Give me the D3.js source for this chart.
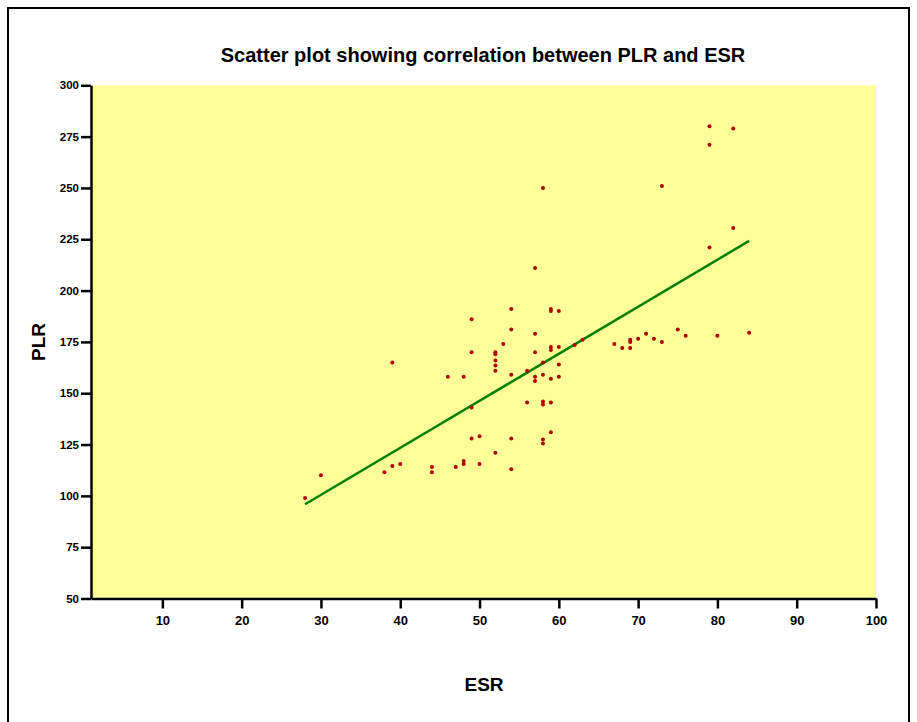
<!DOCTYPE html>
<html>
<head>
<meta charset="utf-8">
<script src="https://cdn.jsdelivr.net/npm/d3@7"></script>
<style>
  body { margin: 0; background: #fff; }
  svg text { font-family: Arial, "Liberation Sans", sans-serif; font-weight: bold; }
</style>
</head>
<body>
<div class="container"></div>
<script>
const w = 917;
const h = 722;

// ESR / PLR pairs
const esr = [28, 30, 38, 39, 39, 40, 44, 44, 46, 47, 48, 48, 48, 49, 49, 49, 49, 50, 50,
  52, 52, 52, 52, 52, 52, 53, 54, 54, 54, 54, 54, 56, 56, 57, 57, 57, 57, 57,
  58, 58, 58, 58, 58, 58, 58, 59, 59, 59, 59, 59, 59, 59, 60, 60, 60, 60,
  62, 63, 67, 68, 69, 69, 69, 70, 71, 72, 73, 73, 75, 76, 79, 79, 79, 80, 82, 82, 84];
const plr = [99, 110, 111.5, 165, 114.5, 115.5, 114, 111.5, 158, 114, 158, 117, 115.5, 186, 170, 143, 128, 129, 115.5,
  170, 169, 166, 163.5, 161, 121, 174, 191, 181, 159, 128, 113, 161, 145.5, 211, 179, 170, 158, 156,
  250, 165, 159, 146, 144.5, 127.5, 125.5, 191, 190, 172.5, 171, 157, 145.5, 131, 190, 172.5, 164, 158,
  173.5, 176, 174, 172, 176, 175, 172, 176.5, 179, 176.5, 175, 251, 181, 178, 280, 271, 221, 178, 279, 230.5, 179.5];

// regression line end points
const fitX = [28, 84];
const fitY = [95.9, 224.2];

const xTicks = [10, 20, 30, 40, 50, 60, 70, 80, 90, 100];
const yTicks = [50, 75, 100, 125, 150, 175, 200, 225, 250, 275, 300];

const plotLeft = 91, plotRight = 876, plotTop = 85.3, plotBottom = 598.5;

let svg = null;

window.onload = function () {
  setSvg();
  draw();
};

function setSvg() {
  svg = d3.select('.container')
    .append('svg')
    .attr('width', w)
    .attr('height', h);
}

function draw() {
  const x = d3.scaleLinear().domain([1, 100]).range([plotLeft, plotRight]);
  const y = d3.scaleLinear().domain([50, 300]).range([plotBottom, plotTop]);

  // outer frame
  svg.append('rect')
    .attr('x', 8).attr('y', 8)
    .attr('width', 901).attr('height', 730)
    .attr('fill', 'none')
    .attr('stroke', '#000')
    .attr('stroke-width', 2);

  svg.append('rect')
    .attr('x', plotLeft).attr('y', plotTop)
    .attr('width', plotRight - plotLeft).attr('height', plotBottom - plotTop)
    .attr('fill', '#ffff99');

  svg.append('text')
    .attr('x', 483).attr('y', 62)
    .attr('text-anchor', 'middle')
    .attr('font-size', 20)
    .text('Scatter plot showing correlation between PLR and ESR');

  const xAxis = svg.append('g')
    .attr('transform', `translate(0,${plotBottom})`)
    .call(d3.axisBottom(x).tickValues(xTicks).tickSize(10).tickPadding(7).tickSizeOuter(0));
  xAxis.select('.domain').attr('stroke-width', 2.5);
  xAxis.selectAll('.tick line').attr('stroke-width', 2.5);
  xAxis.selectAll('.tick text').attr('font-size', 13).attr('fill', '#000');

  const yAxis = svg.append('g')
    .attr('transform', `translate(${plotLeft},0)`)
    .call(d3.axisLeft(y).tickValues(yTicks).tickSize(10).tickPadding(2).tickSizeOuter(0));
  yAxis.select('.domain').attr('stroke-width', 2.5);
  yAxis.selectAll('.tick line').attr('stroke-width', 2.5);
  yAxis.selectAll('.tick text').attr('font-size', 11.5).attr('fill', '#000');

  svg.append('text')
    .attr('x', 484).attr('y', 691)
    .attr('text-anchor', 'middle')
    .attr('font-size', 19)
    .text('ESR');

  svg.append('text')
    .attr('transform', 'translate(45,342) rotate(-90)')
    .attr('text-anchor', 'middle')
    .attr('font-size', 19)
    .text('PLR');

  svg.append('line')
    .attr('x1', x(fitX[0])).attr('y1', y(fitY[0]))
    .attr('x2', x(fitX[1])).attr('y2', y(fitY[1]))
    .attr('stroke', '#008000')
    .attr('stroke-width', 2.5);

  svg.selectAll('circle')
    .data(esr)
    .enter()
    .append('circle')
    .attr('cx', (d) => x(d))
    .attr('cy', (d, i) => y(plr[i]))
    .attr('r', 2)
    .attr('fill', '#b00000');
}
</script>
</body>
</html>
